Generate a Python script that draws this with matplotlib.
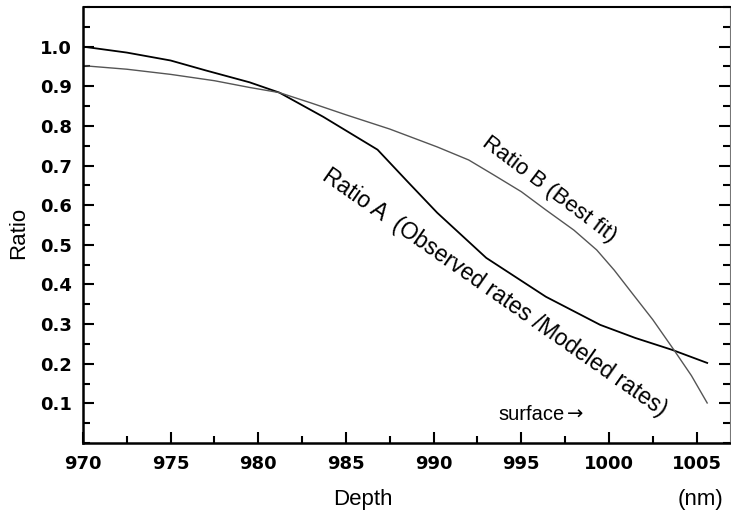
import matplotlib
matplotlib.use('Agg')
import matplotlib.pyplot as plt
from matplotlib.ticker import MultipleLocator, FormatStrFormatter

# depth (nm) vs ratio
depth_a = [970.0, 972.5, 975.0, 977.0, 979.5, 981.2, 983.7, 986.8, 988.5,
           990.2, 993.0, 996.4, 999.5, 1001.5, 1003.6, 1005.6]
ratio_a = [1.000, 0.985, 0.965, 0.940, 0.910, 0.884, 0.823, 0.740, 0.660,
           0.581, 0.467, 0.369, 0.298, 0.265, 0.235, 0.202]

depth_b = [970.0, 972.5, 975.0, 977.5, 979.5, 981.2, 983.0, 985.0, 987.5,
           990.2, 992.0, 993.4, 995.0, 996.4, 998.0, 999.3, 1000.3, 1001.3,
           1002.5, 1003.7, 1004.7, 1005.6]
ratio_b = [0.952, 0.943, 0.930, 0.914, 0.897, 0.884, 0.858, 0.828, 0.792,
           0.747, 0.714, 0.677, 0.634, 0.588, 0.537, 0.487, 0.436, 0.379,
           0.311, 0.235, 0.170, 0.101]

label_font = ['Liberation Sans', 'DejaVu Sans']

fig = plt.figure(figsize=(7.31, 5.18), dpi=100)
ax = fig.add_axes([0.1135, 0.1448, 0.8851, 0.8417])

ax.plot(depth_a, ratio_a, color='black', lw=1.3)
ax.plot(depth_b, ratio_b, color='#555555', lw=1.0)

ax.set_xlim(970, 1006.9)
ax.set_ylim(0, 1.1)

ax.xaxis.set_major_locator(MultipleLocator(5))
ax.xaxis.set_minor_locator(MultipleLocator(2.5))
ax.yaxis.set_minor_locator(MultipleLocator(0.05))
ax.set_yticks([0.1, 0.2, 0.3, 0.4, 0.5, 0.6, 0.7, 0.8, 0.9, 1.0])
ax.yaxis.set_major_formatter(FormatStrFormatter('%.1f'))

ax.tick_params(axis='both', which='major', direction='in', length=8,
               width=1.5)
ax.tick_params(axis='x', which='major', pad=9)
ax.tick_params(axis='y', which='major', pad=8)
ax.tick_params(axis='both', which='minor', direction='in', length=5,
               width=1.5)
ax.tick_params(axis='y', which='both', right=True, labelright=False)

for lbl in ax.get_xticklabels() + ax.get_yticklabels():
    lbl.set_fontweight('bold')
    lbl.set_fontsize(13)

for side in ['left', 'bottom']:
    ax.spines[side].set_linewidth(1.8)
ax.spines['top'].set_linewidth(1.5)
ax.spines['top'].set_bounds(970.3, 1006.9)
ax.spines['right'].set_linewidth(0.8)
ax.spines['right'].set_color('#777777')

ax.text(996.6, 0.64, 'Ratio B (Best fit)', family=label_font, fontsize=16,
        rotation=-37, rotation_mode='anchor', ha='center', va='center')
ax.text(993.5, 0.38, 'Ratio A  (Observed rates /Modeled rates)',
        family=label_font, fontsize=16.5, rotation=-35,
        rotation_mode='anchor', ha='center', va='center')
# "surface" plus the arrow, the arrow from DejaVu so it is full size
ax.text(997.45, 0.072, 'surface', family=label_font, fontsize=14.5,
        ha='right', va='center')
ax.text(997.6, 0.072, '\u2192', family='DejaVu Sans', fontsize=14,
        ha='left', va='center')

fig.text(0.497, 0.035, 'Depth', family=label_font, fontsize=16,
         ha='center', va='center')
fig.text(0.958, 0.035, '(nm)', family=label_font, fontsize=16,
         ha='center', va='center')
fig.text(0.026, 0.551, 'Ratio', family=label_font, fontsize=16,
         ha='center', va='center', rotation=90)

fig.savefig('out.png', dpi=100)
